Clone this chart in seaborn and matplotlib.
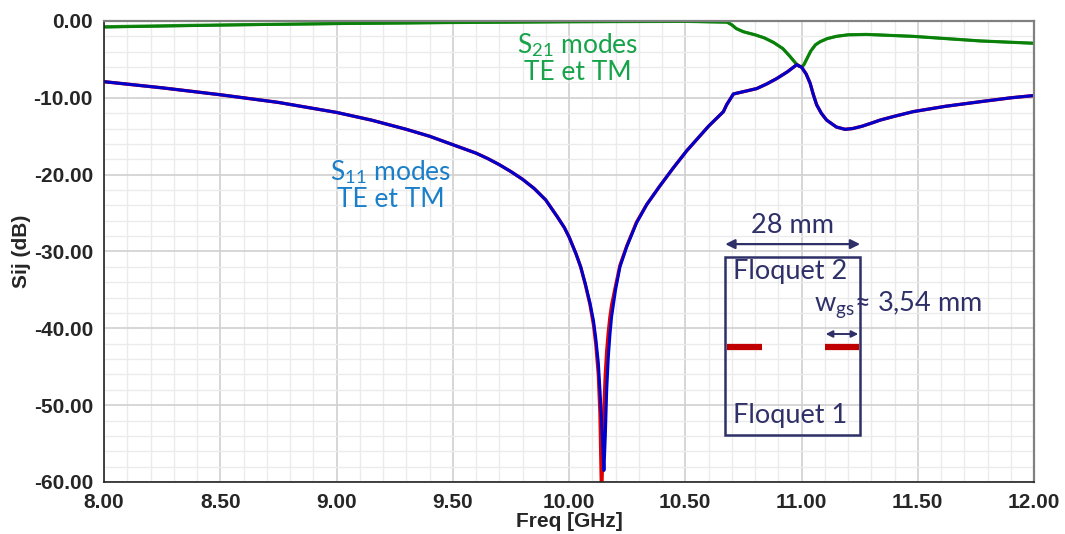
import matplotlib
matplotlib.use("Agg")
import matplotlib.pyplot as plt
import seaborn as sns
from matplotlib.ticker import MultipleLocator, FormatStrFormatter
from matplotlib.patches import Rectangle

# S11 (TE and TM modes)
freq_s11 = [8.00, 8.25, 8.50, 8.75, 9.00, 9.15, 9.30, 9.40, 9.50, 9.60,
            9.65, 9.70, 9.75, 9.80, 9.85, 9.90, 9.95, 9.98, 10.00, 10.03,
            10.05, 10.07, 10.09, 10.105, 10.115, 10.126, 10.133, 10.14, 10.15, 10.156,
            10.162, 10.169, 10.176, 10.183, 10.20, 10.219, 10.248, 10.29, 10.334, 10.39,
            10.449, 10.506, 10.55, 10.60, 10.664, 10.678, 10.707, 10.75, 10.807, 10.85,
            10.893, 10.94, 10.979, 11.00, 11.02, 11.037, 11.05, 11.065, 11.085, 11.108,
            11.15, 11.187, 11.22, 11.26, 11.30, 11.338, 11.40, 11.48, 11.62, 11.77,
            11.90, 12.00]
s11_te = [-7.9, -8.7, -9.6, -10.6, -11.9, -12.9, -14.1, -15.0, -16.1, -17.2,
          -17.9, -18.7, -19.6, -20.6, -21.8, -23.3, -25.5, -26.9, -28.1, -30.3,
          -32.0, -34.2, -36.7, -39.0, -41.3, -44.5, -48.0, -52.0, -58.5, -54.0,
          -48.0, -43.7, -40.8, -38.5, -35.0, -32.0, -29.4, -26.3, -23.9, -21.5,
          -19.1, -16.9, -15.4, -13.7, -11.8, -10.9, -9.5, -9.2, -8.8, -8.2,
          -7.5, -6.6, -5.7, -6.0, -6.9, -8.1, -9.5, -10.9, -12.0, -12.9,
          -13.8, -14.1, -14.0, -13.7, -13.3, -12.9, -12.4, -11.8, -11.1, -10.5,
          -10.0, -9.7]
s11_tm = [-7.9, -8.7, -9.6, -10.6, -11.9, -12.9, -14.1, -15.0, -16.1, -17.2,
          -17.9, -18.7, -19.6, -20.6, -21.8, -23.3, -25.5, -26.9, -28.1, -30.3,
          -32.0, -34.3, -36.9, -39.5, -42.0, -46.0, -51.0, -62.0, -50.5, -46.0,
          -43.0, -40.5, -38.5, -37.0, -34.5, -31.8, -29.3, -26.2, -23.9, -21.5,
          -19.1, -16.9, -15.4, -13.7, -11.8, -10.9, -9.5, -9.2, -8.8, -8.2,
          -7.5, -6.6, -5.7, -6.0, -6.9, -8.1, -9.5, -10.9, -12.0, -12.9,
          -13.8, -14.1, -14.0, -13.7, -13.3, -12.9, -12.4, -11.8, -11.1, -10.5,
          -10.0, -9.7]

# S21 (TE and TM modes)
freq_s21 = [8.00, 8.30, 8.60, 9.00, 9.50, 10.00, 10.50, 10.68, 10.70, 10.72,
            10.75, 10.80, 10.84, 10.88, 10.92, 10.95, 10.975, 10.99, 11.00, 11.01,
            11.025, 11.04, 11.06, 11.08, 11.11, 11.15, 11.20, 11.28, 11.48, 11.77,
            12.00]
s21_te = [-0.8, -0.65, -0.5, -0.35, -0.2, -0.1, -0.05, -0.15, -0.5, -1.0,
          -1.4, -1.8, -2.2, -2.8, -3.6, -4.6, -5.5, -5.9, -6.0, -5.7,
          -4.8, -3.9, -3.1, -2.7, -2.3, -2.0, -1.8, -1.75, -2.0, -2.6,
          -2.9]
s21_tm = [-0.75, -0.6, -0.48, -0.33, -0.2, -0.1, -0.05, -0.15, -0.5, -1.0,
          -1.4, -1.8, -2.2, -2.8, -3.6, -4.6, -5.5, -5.9, -6.0, -5.7,
          -4.8, -3.9, -3.1, -2.7, -2.3, -2.0, -1.8, -1.75, -2.0, -2.6,
          -2.9]

sns.set_style("white")
plt.rcParams['font.family'] = ['Liberation Sans', 'DejaVu Sans']
plt.rcParams['mathtext.fontset'] = 'custom'
plt.rcParams['mathtext.rm'] = 'Lato'
plt.rcParams['mathtext.it'] = 'Lato:italic'

fig = plt.figure(figsize=(10.65, 5.34), dpi=100)
ax = fig.add_axes([0.0977, 0.0974, 0.8732, 0.8633])

sns.lineplot(x=freq_s21, y=s21_tm, ax=ax, color='#2a9a2a', lw=2.3)
sns.lineplot(x=freq_s21, y=s21_te, ax=ax, color='#0a800a', lw=2.0)
sns.lineplot(x=freq_s11, y=s11_tm, ax=ax, color='#e00000', lw=2.4)
sns.lineplot(x=freq_s11, y=s11_te, ax=ax, color='#0000cc', lw=2.2)

ax.set_xlim(8, 12)
ax.set_ylim(-60, 0)
ax.xaxis.set_major_locator(MultipleLocator(0.5))
ax.xaxis.set_minor_locator(MultipleLocator(0.1))
ax.yaxis.set_major_locator(MultipleLocator(10))
ax.yaxis.set_minor_locator(MultipleLocator(2))
ax.xaxis.set_major_formatter(FormatStrFormatter('%.2f'))
ax.yaxis.set_major_formatter(FormatStrFormatter('%.2f'))
ax.set_axisbelow(True)
ax.grid(which='major', color='#d0d0d0', lw=1.2)
ax.grid(which='minor', color='#ebebeb', lw=1.0)

for side in ['left', 'bottom']:
    ax.spines[side].set_color('#222222')
    ax.spines[side].set_linewidth(1.2)
for side in ['top', 'right']:
    ax.spines[side].set_color('#808080')
    ax.spines[side].set_linewidth(1.6)
ax.tick_params(which='major', direction='out', length=6, width=1.1, color='#222222',
               labelsize=15, pad=2)
ax.tick_params(which='minor', direction='out', length=4, width=1.0, color='#222222')
for lab in ax.get_xticklabels() + ax.get_yticklabels():
    lab.set_fontweight('bold')

ax.set_xlabel('Freq [GHz]', fontsize=15, fontweight='bold', labelpad=0)
ax.set_ylabel('Sij (dB)', fontsize=15, fontweight='bold', labelpad=2)

# curve labels
ax.text(0.509, 0.919, 'S$_{21}$ modes\nTE et TM', transform=ax.transAxes, ha='center',
        va='center', color='#17a34a', fontsize=19, family='Lato', linespacing=1.05)
ax.text(0.308, 0.644, 'S$_{11}$ modes\nTE et TM', transform=ax.transAxes, ha='center',
        va='center', color='#1a7fc9', fontsize=19, family='Lato', linespacing=1.05)

# Floquet port sketch
navy = '#2f3068'
ax.add_patch(Rectangle((0.668, 0.102), 0.145, 0.386, transform=ax.transAxes,
                       fill=False, edgecolor=navy, lw=1.8))
ax.annotate('', xy=(0.668, 0.516), xytext=(0.813, 0.516), xycoords='axes fraction',
            arrowprops=dict(arrowstyle='<|-|>', color=navy, lw=1.6, mutation_scale=14,
                            shrinkA=0, shrinkB=0))
ax.text(0.740, 0.557, '28 mm', transform=ax.transAxes, ha='center', va='center',
        color=navy, fontsize=19.5, family='Lato')
ax.text(0.676, 0.456, 'Floquet 2', transform=ax.transAxes, ha='left', va='center',
        color=navy, fontsize=19.5, family='Lato')
ax.text(0.676, 0.145, 'Floquet 1', transform=ax.transAxes, ha='left', va='center',
        color=navy, fontsize=19.5, family='Lato')
ax.plot([0.670, 0.708], [0.293, 0.293], transform=ax.transAxes, color='#c00000',
        lw=4.5, solid_capstyle='butt')
ax.plot([0.775, 0.812], [0.293, 0.293], transform=ax.transAxes, color='#c00000',
        lw=4.5, solid_capstyle='butt')
ax.annotate('', xy=(0.776, 0.321), xytext=(0.811, 0.321), xycoords='axes fraction',
            arrowprops=dict(arrowstyle='<|-|>', color=navy, lw=1.4, mutation_scale=10,
                            shrinkA=0, shrinkB=0))
ax.text(0.763, 0.385, 'w$_{\\mathrm{gs}}$\u2248 3,54 mm', transform=ax.transAxes, ha='left',
        va='center', color=navy, fontsize=19.5, family=['Lato', 'DejaVu Sans'])

fig.savefig('out.png', dpi=100)
